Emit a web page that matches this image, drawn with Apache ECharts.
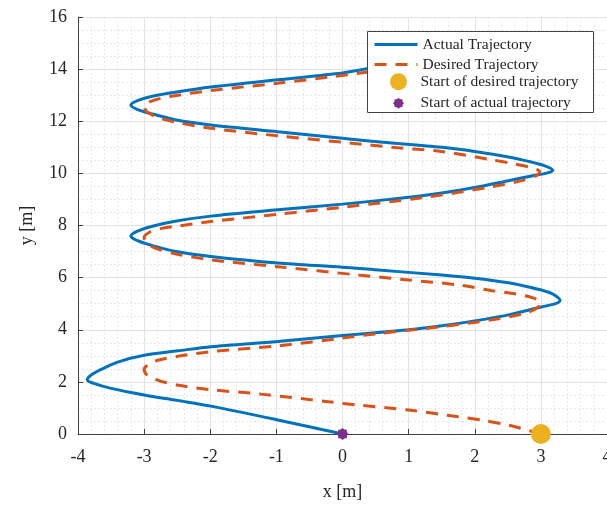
<!DOCTYPE html>
<html>
<head>
<meta charset="utf-8">
<script src="https://cdn.jsdelivr.net/npm/echarts@6/dist/echarts.min.js"></script>
<style>
  html, body { margin: 0; padding: 0; background: #fff; }
  #chart { width: 607px; height: 509px; }
</style>
</head>
<body>
<div id="chart"></div>
<script>
// Axis ticks
const xTicks = [-4, -3, -2, -1, 0, 1, 2, 3, 4];
const yTicks = [0, 2, 4, 6, 8, 10, 12, 14, 16];

// Measured path of the vehicle, [x, y] in metres
const actualPath = [
  [0, 0], [-0.98, 0.54], [-1.99, 1.07], [-2.5, 1.29], [-3.0, 1.50], [-3.5, 1.75],
  [-3.76, 1.94], [-3.86, 2.08], [-3.79, 2.28], [-3.64, 2.49], [-3.40, 2.76],
  [-3.0, 3.02], [-2.49, 3.19], [-1.99, 3.35], [-0.98, 3.55], [0, 3.78], [1.0, 4.0],
  [1.5, 4.15], [2.0, 4.34], [2.51, 4.57], [3.02, 4.88], [3.22, 5.0], [3.29, 5.12],
  [3.16, 5.40], [2.85, 5.62], [2.51, 5.80], [2.0, 5.98], [1.5, 6.10], [0.49, 6.30],
  [0, 6.40], [-0.98, 6.56], [-1.99, 6.81], [-2.49, 6.99], [-2.86, 7.22],
  [-3.1, 7.42], [-3.2, 7.60], [-3.1, 7.78], [-2.86, 7.98], [-2.49, 8.18],
  [-1.99, 8.36], [-0.98, 8.60], [0, 8.82], [1.0, 9.08], [1.5, 9.25], [2.0, 9.46],
  [2.51, 9.72], [2.86, 9.90], [3.1, 10.02], [3.18, 10.12], [3.05, 10.30],
  [2.80, 10.47], [2.51, 10.63], [2.0, 10.84], [1.5, 11.0], [0.49, 11.22],
  [0, 11.35], [-0.98, 11.60], [-1.99, 11.86], [-2.49, 12.04], [-2.86, 12.27],
  [-3.1, 12.45], [-3.2, 12.62], [-3.1, 12.79], [-2.86, 12.97], [-2.49, 13.13],
  [-1.99, 13.31], [-0.98, 13.59], [0, 13.85], [0.4, 14.02], [1.5, 14.4],
  [2.5, 14.8], [3.0, 15.0]
];

// Reference path, [x, y] in metres
const desiredPath = [
  [3.0, 0], [2.51, 0.34], [2.11, 0.53], [1.75, 0.66], [1.0, 0.92], [0.24, 1.11],
  [-0.22, 1.24], [-1.23, 1.53], [-1.99, 1.70], [-2.5, 1.88], [-2.78, 2.05],
  [-2.95, 2.25], [-3.0, 2.48], [-2.93, 2.68], [-2.78, 2.84], [-2.49, 2.98],
  [-1.99, 3.16], [-0.98, 3.38], [0, 3.68], [0.49, 3.84], [1.5, 4.12], [2.26, 4.38],
  [2.76, 4.63], [2.95, 4.84], [3.0, 5.04], [2.88, 5.22], [2.62, 5.37], [2.26, 5.50],
  [1.75, 5.72], [1.0, 5.91], [0.24, 6.10], [-0.98, 6.42], [-1.99, 6.68],
  [-2.5, 6.90], [-2.8, 7.10], [-2.96, 7.32], [-3.0, 7.54], [-2.92, 7.74],
  [-2.75, 7.88], [-2.49, 7.98], [-1.99, 8.15], [-0.98, 8.43], [0, 8.70],
  [1.25, 9.08], [2.26, 9.49], [2.76, 9.75], [2.95, 9.94], [2.98, 10.07],
  [2.85, 10.22], [2.6, 10.36], [2.26, 10.52], [1.5, 10.84], [0.75, 11.0],
  [0.14, 11.16], [-0.98, 11.44], [-1.99, 11.73], [-2.5, 11.95], [-2.8, 12.15],
  [-2.96, 12.37], [-3.0, 12.58], [-2.92, 12.74], [-2.75, 12.88], [-2.49, 13.0],
  [-1.99, 13.18], [-0.98, 13.46], [-0.12, 13.72], [1.0, 14.1], [2.0, 14.55],
  [3.0, 15.0]
];

const desiredStart = [[3, 0]];
const actualStart = [[0, 0]];

const seriesNames = ['Actual Trajectory', 'Desired Trajectory',
  'Start of desired trajectory', 'Start of actual trajectory'];

// Scalloped star marker for the actual start point
function starPath(points, rOut, rIn) {
  let d = '';
  for (let i = 0; i < points * 2; i++) {
    const r = i % 2 === 0 ? rOut : rIn;
    const a = Math.PI * i / points - Math.PI / 2;
    d += (i === 0 ? 'M' : 'L') + (50 + r * Math.cos(a)).toFixed(2) + ',' + (50 + r * Math.sin(a)).toFixed(2);
  }
  return 'path://' + d + 'Z';
}
const starSymbol = starPath(8, 50, 40);

const serif = '"Liberation Serif", "DejaVu Serif", serif';
const ink = '#262626';
const BLUE = '#0072BD', ORANGE = '#D95319', YELLOW = '#EDB120', PURPLE = '#7E2F8E';

const chart = echarts.init(document.getElementById('chart'), null, { renderer: 'canvas' });

const legendText = { fontFamily: serif, fontSize: 15.5, color: ink };

chart.setOption({
  animation: false,
  backgroundColor: '#fff',
  grid: { left: 78, top: 17, right: 0, bottom: 75, containLabel: false, outerBoundsMode: 'none' },
  xAxis: {
    type: 'value', min: xTicks[0], max: xTicks[xTicks.length - 1], interval: 1,
    name: 'x [m]', nameLocation: 'middle', nameGap: 49,
    nameTextStyle: { fontFamily: serif, fontSize: 18, color: ink },
    axisLine: { show: true, onZero: false, lineStyle: { color: '#404040', width: 1 } },
    axisTick: { show: true, inside: true, length: 5, lineStyle: { color: '#404040' } },
    axisLabel: { fontFamily: serif, fontSize: 18, color: ink, margin: 14, showMaxLabel: true },
    splitLine: { show: true, lineStyle: { color: '#e3e3e3', width: 1 } },
    minorTick: { show: false, splitNumber: 5 },
    minorSplitLine: { show: true, lineStyle: { color: '#e8e8e8', width: 1, type: [2, 2] } }
  },
  yAxis: {
    type: 'value', min: yTicks[0], max: yTicks[yTicks.length - 1], interval: 2,
    name: 'y [m]', nameLocation: 'middle', nameGap: 42, nameRotate: 90,
    nameTextStyle: { fontFamily: serif, fontSize: 18, color: ink },
    axisLine: { show: true, onZero: false, lineStyle: { color: '#404040', width: 1 } },
    axisTick: { show: true, inside: true, length: 5, lineStyle: { color: '#404040' } },
    axisLabel: { fontFamily: serif, fontSize: 18, color: ink, margin: 11 },
    splitLine: { show: true, lineStyle: { color: '#e3e3e3', width: 1 } },
    minorTick: { show: false, splitNumber: 4 },
    minorSplitLine: { show: true, lineStyle: { color: '#e8e8e8', width: 1, type: [2, 2] } }
  },
  legend: [
    {
      data: [seriesNames[0], seriesNames[1]], orient: 'vertical',
      left: 373, top: 36.5, itemWidth: 43, itemHeight: 15, itemGap: 4, padding: 0,
      itemStyle: { opacity: 0 }, lineStyle: { width: 3 },
      textStyle: legendText, backgroundColor: 'transparent', selectedMode: false
    },
    {
      data: [seriesNames[2]], orient: 'vertical',
      left: 390, top: 73.2, itemWidth: 34, itemHeight: 17, padding: 0,
      textStyle: legendText, selectedMode: false
    },
    {
      data: [seriesNames[3]], orient: 'vertical',
      left: 393, top: 95.2, itemWidth: 34, itemHeight: 11, padding: 0,
      textStyle: legendText, selectedMode: false
    }
  ],
  graphic: [{
    type: 'rect', left: 367, top: 31, z: 3,
    shape: { width: 226, height: 81 },
    style: { fill: '#fff', stroke: '#444', lineWidth: 1 }
  }],
  series: [
    {
      name: seriesNames[0], type: 'line', data: actualPath,
      showSymbol: false, symbol: 'none', smooth: 0.3, clip: false,
      lineStyle: { color: BLUE, width: 3 }, itemStyle: { color: BLUE }, z: 2
    },
    {
      name: seriesNames[1], type: 'line', data: desiredPath,
      showSymbol: false, symbol: 'none', smooth: 0.3, clip: false,
      lineStyle: { color: ORANGE, width: 3, type: [12, 9] }, itemStyle: { color: ORANGE }, z: 2
    },
    {
      name: seriesNames[2], type: 'scatter', data: desiredStart, clip: false,
      symbol: 'circle', symbolSize: 20, itemStyle: { color: YELLOW, opacity: 1 }, z: 2
    },
    {
      name: seriesNames[3], type: 'scatter', data: actualStart, clip: false,
      symbol: starSymbol, symbolSize: 12, itemStyle: { color: PURPLE, opacity: 1 }, z: 2
    }
  ]
});
</script>
</body>
</html>
